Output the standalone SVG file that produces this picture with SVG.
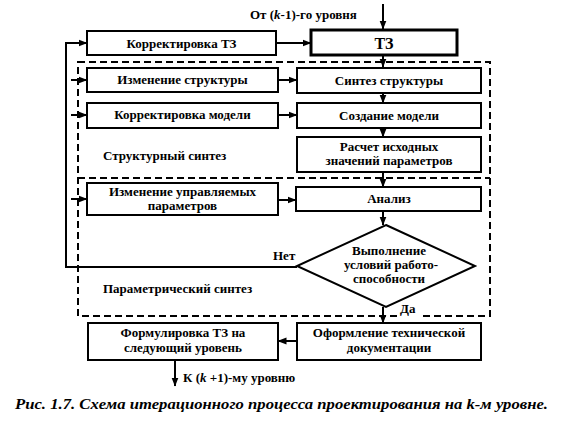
<svg xmlns="http://www.w3.org/2000/svg" width="561" height="434" viewBox="0 0 561 434">
<style>
.box{fill:#fff;stroke:#000;stroke-width:2}
.thick{fill:#fff;stroke:#000;stroke-width:3}
.t{font-family:'Liberation Serif','Times New Roman',serif;font-weight:bold;font-size:13px;fill:#000}
.c{text-anchor:middle}
.ln{fill:none;stroke:#000;stroke-width:2}
.dash{fill:none;stroke:#000;stroke-width:2;stroke-dasharray:7 4}
.cap{font-family:'Liberation Serif','Times New Roman',serif;font-weight:bold;font-style:italic;font-size:14px;fill:#000}
</style>
<defs>
<marker id="ah" markerWidth="9" markerHeight="8" refX="8.5" refY="4" orient="auto" markerUnits="userSpaceOnUse">
<path d="M0,0.5 L9,4 L0,7.5 Z" fill="#000"/>
</marker>
</defs>
<rect width="561" height="434" fill="#fff"/>

<g id="regions">
<path class="dash" d="M78,62 H490 V316 H78 Z M78,178 H490"/>
<text class="t" x="103" y="160">Структурный синтез</text>
<text class="t" x="103" y="293">Параметрический синтез</text>
</g>

<g id="connectors">
<path class="ln" d="M383,4 V29" marker-end="url(#ah)"/>
<path class="ln" d="M276,43 H311" marker-end="url(#ah)"/>
<path class="ln" d="M383,55 V67" marker-end="url(#ah)"/>
<path class="ln" d="M278,80 H297" marker-end="url(#ah)"/>
<path class="ln" d="M383,93 V103" marker-end="url(#ah)"/>
<path class="ln" d="M278,115 H297" marker-end="url(#ah)"/>
<path class="ln" d="M383,128 V137" marker-end="url(#ah)"/>
<path class="ln" d="M383,172 V187" marker-end="url(#ah)"/>
<path class="ln" d="M278,200 H296" marker-end="url(#ah)"/>
<path class="ln" d="M383,211 V225" marker-end="url(#ah)"/>
<path class="ln" d="M383,307 V323" marker-end="url(#ah)"/>
<path class="ln" d="M297,341 H278" marker-end="url(#ah)"/>
<path class="ln" d="M175,360 V386" marker-end="url(#ah)"/>
<path class="ln" d="M297,267 H66 V43 H87" marker-end="url(#ah)"/>
<path class="ln" d="M71,80 H87" marker-end="url(#ah)"/>
<path class="ln" d="M71,115 H87" marker-end="url(#ah)"/>
<path class="ln" d="M71,199 H87" marker-end="url(#ah)"/>
<text class="t" x="250" y="19">От (<tspan font-style="italic">k</tspan>-1)-го уровня</text>
<text class="t" x="273" y="260">Нет</text>
<rect x="397" y="312" width="24" height="8" fill="#fff"/>
<text class="t" x="400" y="313">Да</text>
<text class="t" x="183" y="382">К (<tspan font-style="italic">k</tspan> +1)-му уровню</text>
</g>

<g id="korr-tz">
<rect class="box" x="87" y="31" width="189" height="24"/>
<text class="t c" x="181.5" y="48">Корректировка ТЗ</text>
</g>
<g id="tz">
<rect class="thick" x="311" y="30" width="146" height="25"/>
<text class="t c" x="384" y="49" style="font-size:16px">ТЗ</text>
</g>
<g id="izm-struct">
<rect class="box" x="87" y="68" width="191" height="24"/>
<text class="t c" x="182.5" y="84">Изменение структуры</text>
</g>
<g id="sint-struct">
<rect class="box" x="297" y="68" width="184" height="25"/>
<text class="t c" x="389" y="85">Синтез структуры</text>
</g>
<g id="korr-model">
<rect class="box" x="87" y="103" width="191" height="25"/>
<text class="t c" x="182.5" y="119">Корректировка модели</text>
</g>
<g id="sozd-model">
<rect class="box" x="297" y="103" width="184" height="25"/>
<text class="t c" x="389" y="120">Создание модели</text>
</g>
<g id="raschet">
<rect class="box" x="297" y="137" width="184" height="35"/>
<text class="t c" x="389" y="151">Расчет исходных</text>
<text class="t c" x="389" y="165">значений параметров</text>
</g>
<g id="izm-param">
<rect class="box" x="87" y="183" width="191" height="32"/>
<text class="t c" x="182.5" y="196">Изменение управляемых</text>
<text class="t c" x="182.5" y="210">параметров</text>
</g>
<g id="analiz">
<rect class="box" x="296" y="187" width="185" height="24"/>
<text class="t c" x="389" y="203">Анализ</text>
</g>
<g id="uslovie">
<polygon class="box" points="386,225 475,266 386,307 297,266"/>
<text class="t c" x="389" y="255">Выполнение</text>
<text class="t c" x="391" y="269">условий работо-</text>
<text class="t c" x="389" y="283">способности</text>
</g>
<g id="oform">
<rect class="box" x="297" y="323" width="184" height="37"/>
<text class="t c" x="389" y="337">Оформление технической</text>
<text class="t c" x="389" y="352">документации</text>
</g>
<g id="formul">
<rect class="box" x="88" y="323" width="190" height="37"/>
<text class="t c" x="183" y="337">Формулировка ТЗ на</text>
<text class="t c" x="183" y="352">следующий уровень</text>
</g>

<text class="cap" x="15" y="409" textLength="533" lengthAdjust="spacingAndGlyphs">Рис.  1.7. Схема итерационного процесса проектирования на k-м уровне.</text>
</svg>
